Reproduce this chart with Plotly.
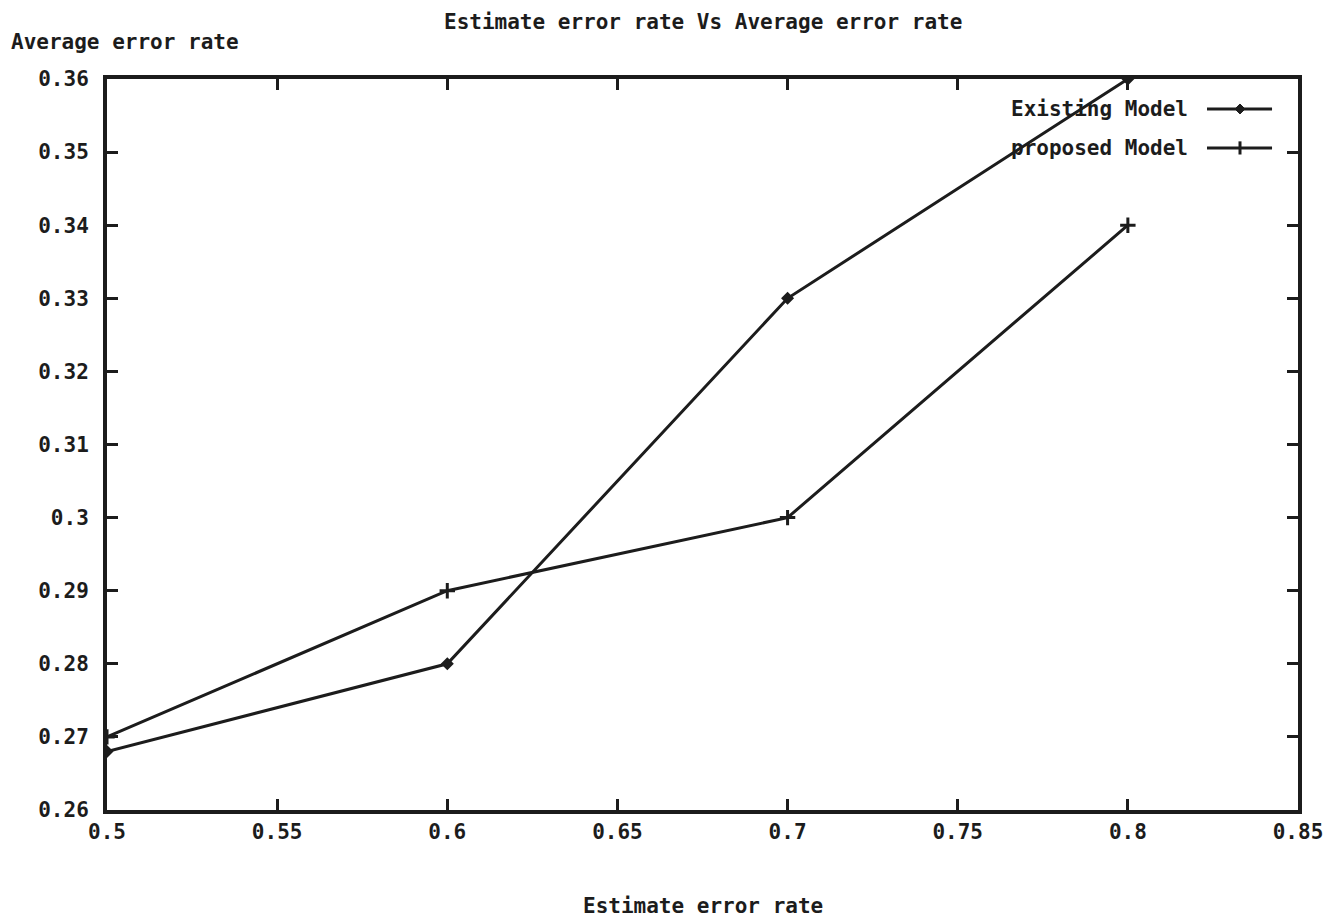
import plotly.graph_objects as go

x_vals = [0.5, 0.6, 0.7, 0.8]
existing = [0.268, 0.28, 0.33, 0.36]
proposed = [0.27, 0.29, 0.30, 0.34]

x_ticks = [0.5, 0.55, 0.6, 0.65, 0.7, 0.75, 0.8, 0.85]
x_ticklabels = ["0.5", "0.55", "0.6", "0.65", "0.7", "0.75", "0.8", "0.85"]
y_ticks = [0.26, 0.27, 0.28, 0.29, 0.30, 0.31, 0.32, 0.33, 0.34, 0.35, 0.36]
y_ticklabels = ["0.26", "0.27", "0.28", "0.29", "0.3", "0.31", "0.32", "0.33", "0.34", "0.35", "0.36"]

INK = "#1c1c1c"
FONT = dict(family="DejaVu Sans Mono", size=21, color=INK, weight="bold")

fig = go.Figure()
fig.add_trace(go.Scatter(
    x=x_vals, y=existing, mode="lines+markers", name="Existing Model",
    line=dict(color=INK, width=3),
    marker=dict(symbol="diamond", size=10, color=INK),
    showlegend=False,
))
fig.add_trace(go.Scatter(
    x=x_vals, y=proposed, mode="lines+markers", name="proposed Model",
    line=dict(color=INK, width=3),
    marker=dict(symbol="cross-thin", size=11, line=dict(color=INK, width=3)),
    showlegend=False,
))

axis_common = dict(
    showline=True, linewidth=4, linecolor=INK, mirror="ticks",
    ticks="inside", ticklen=11, tickwidth=3, tickcolor=INK,
    showgrid=False, zeroline=False, tickfont=FONT,
)

fig.update_layout(
    width=1342, height=920,
    margin=dict(l=107, r=44, t=79, b=110),
    plot_bgcolor="white", paper_bgcolor="white",
    font=FONT,
    xaxis=dict(range=[0.5, 0.85], tickvals=x_ticks, ticktext=x_ticklabels,
               ticklabelstandoff=0, **axis_common),
    yaxis=dict(range=[0.26, 0.36], tickvals=y_ticks, ticktext=y_ticklabels,
               ticklabelstandoff=10, **axis_common),
)

# Title and axis titles (gnuplot style placement)
fig.add_annotation(text="Estimate error rate Vs Average error rate", xref="paper", yref="paper",
                   x=0.5, y=1, yshift=57, showarrow=False, xanchor="center", yanchor="middle", font=FONT)
fig.add_annotation(text="Average error rate", xref="paper", yref="paper",
                   x=0, y=1, xshift=-98, yshift=37, showarrow=False, xanchor="left", yanchor="middle", font=FONT)
fig.add_annotation(text="Estimate error rate", xref="paper", yref="paper",
                   x=0.5, y=0, yshift=-96, showarrow=False, xanchor="center", yanchor="middle", font=FONT)

# Legend in gnuplot style: text on the left, sample on the right
legend_rows = [("Existing Model", 0.959, "diamond"), ("proposed Model", 0.9057, "plus")]
for label, ypos, kind in legend_rows:
    fig.add_annotation(text=label, xref="paper", yref="paper", x=0.9093, y=ypos,
                       showarrow=False, xanchor="right", yanchor="middle", font=FONT)
    fig.add_shape(type="line", xref="paper", yref="paper", x0=0.9236, x1=0.9782, y0=ypos, y1=ypos,
                  line=dict(color=INK, width=3))
    if kind == "diamond":
        fig.add_shape(type="path", xref="paper", yref="paper",
                      path=f"M 0.9513 {ypos+0.0068} L 0.9555 {ypos} L 0.9513 {ypos-0.0068} L 0.9471 {ypos} Z",
                      fillcolor=INK, line=dict(color=INK, width=1))
    else:
        fig.add_shape(type="line", xref="paper", yref="paper", x0=0.9513, x1=0.9513,
                      y0=ypos - 0.009, y1=ypos + 0.009, line=dict(color=INK, width=3))

fig.write_html("out.html", config={"displayModeBar": False},
               post_script="document.body.style.margin='0';document.body.style.overflow='hidden';")
